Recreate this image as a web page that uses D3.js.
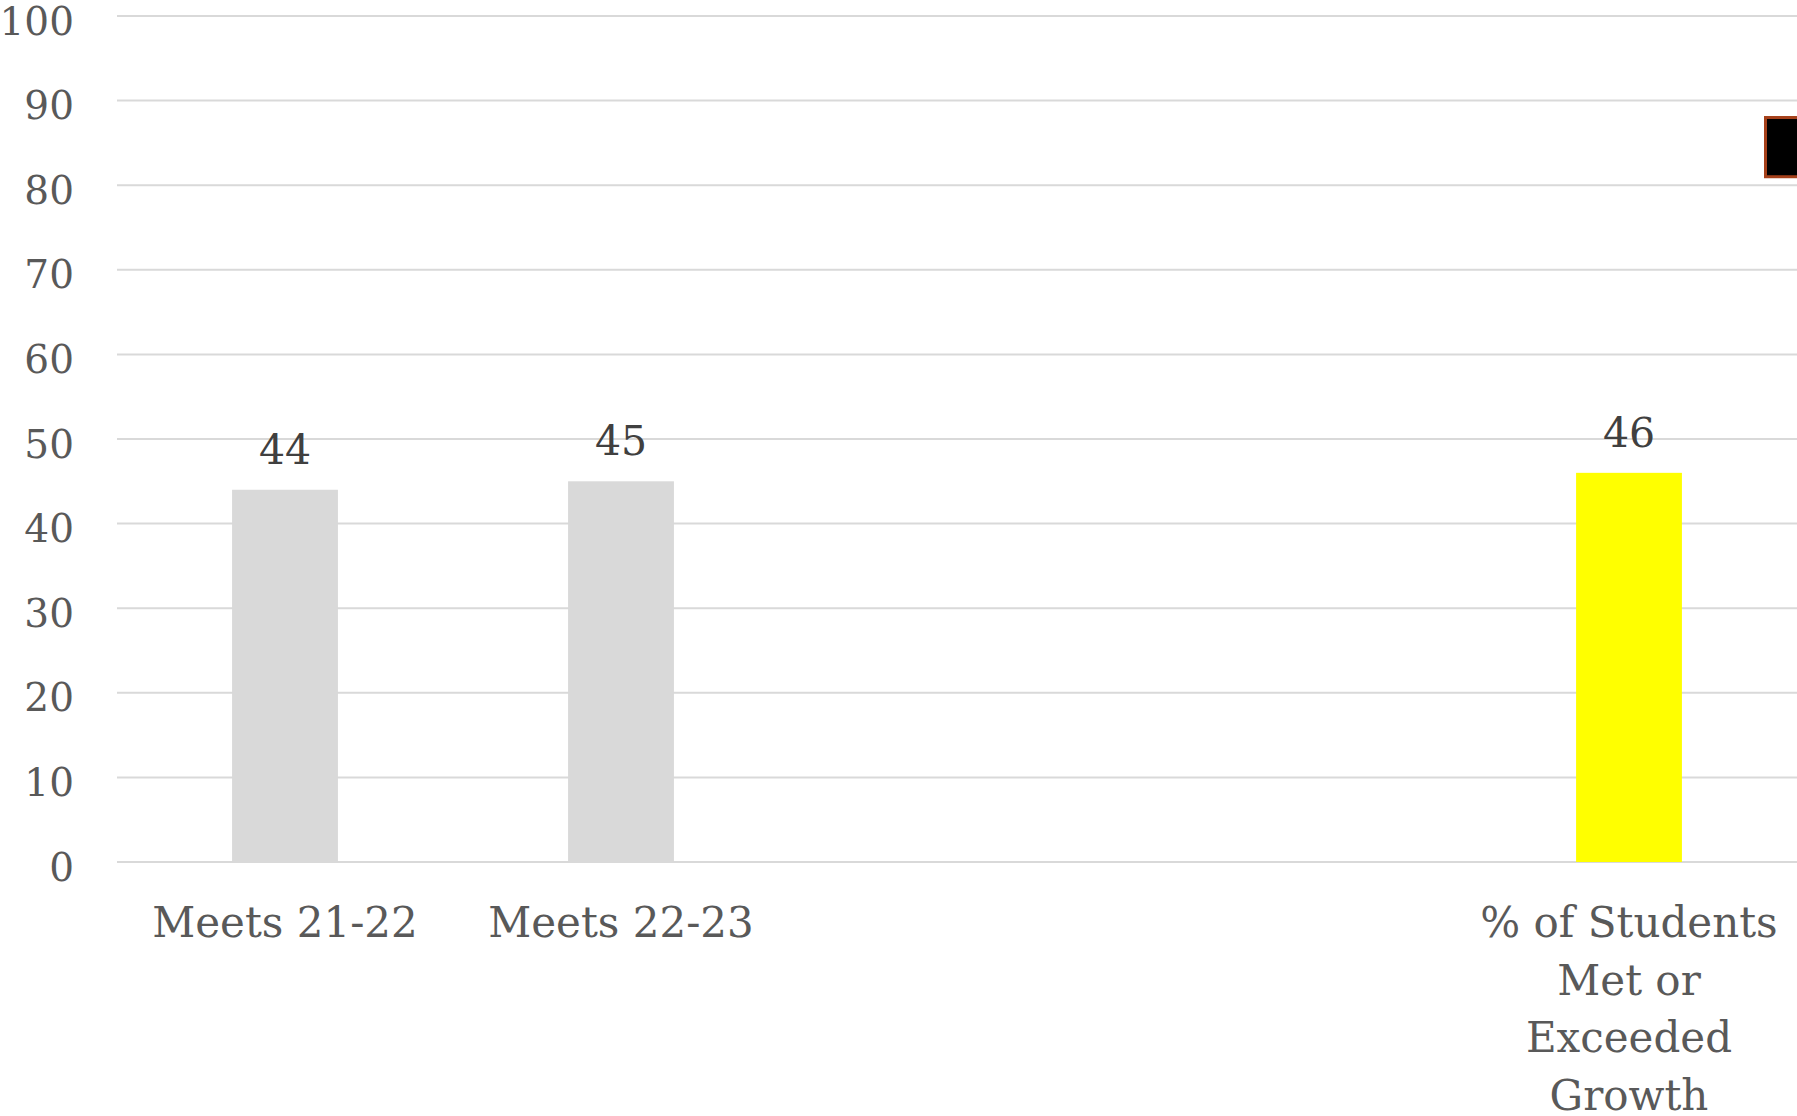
<!DOCTYPE html>
<html>
<head>
<meta charset="utf-8">
<script src="https://cdn.jsdelivr.net/npm/d3@7"></script>
<style>
  html, body { margin: 0; padding: 0; background: #ffffff; overflow: hidden; }
  svg { display: block; }
</style>
</head>
<body>
<svg id="chart" width="1797" height="1116"></svg>
<script>
// ---- data ----
const categories = ["Meets 21-22", "Meets 22-23", "", " ", "% of Students Met or Exceeded Growth"];
const values = [44, 45, null, null, 46];
const barColors = ["#d9d9d9", "#d9d9d9", "#d9d9d9", "#d9d9d9", "#ffff00"];
const yTicks = [0, 10, 20, 30, 40, 50, 60, 70, 80, 90, 100];
const legendItems = ["Series"];

// ---- layout ----
const W = 1797, H = 1116;
const plotLeft = 117, plotRight = 1797, plotTop = 16, plotBottom = 862;

const svg = d3.select("#chart");

const y = d3.scaleLinear().domain([0, 100]).range([plotBottom, plotTop]);
const x = d3.scaleBand().domain(categories).range([plotLeft, plotRight]).padding(0);
const barW = x.bandwidth() * 0.315;

// gridlines
svg.append("g")
  .selectAll("line")
  .data(yTicks)
  .join("line")
  .attr("x1", plotLeft)
  .attr("x2", plotRight)
  .attr("y1", d => y(d))
  .attr("y2", d => y(d))
  .attr("stroke", "#d9d9d9")
  .attr("stroke-width", 2);

// y axis labels
const yAxis = d3.axisLeft(y).tickValues(yTicks).tickSize(0).tickPadding(0);
const yg = svg.append("g").attr("transform", `translate(74,0)`).call(yAxis);
yg.select(".domain").remove();
yg.selectAll("text")
  .attr("font-family", "'DejaVu Serif', serif")
  .attr("font-size", 39)
  .attr("fill", "#595959")
  .attr("text-anchor", "end")
  .attr("dy", "0.36em")
  .attr("y", 4);

// bars
const data = categories.map((c, i) => ({ c, v: values[i], color: barColors[i] }))
  .filter(d => d.v !== null);

svg.append("g")
  .selectAll("rect")
  .data(data)
  .join("rect")
  .attr("x", d => x(d.c) + x.bandwidth() / 2 - barW / 2)
  .attr("width", barW)
  .attr("y", d => y(d.v))
  .attr("height", d => y(0) - y(d.v))
  .attr("fill", d => d.color);

// data labels
svg.append("g")
  .selectAll("text")
  .data(data)
  .join("text")
  .attr("x", d => x(d.c) + x.bandwidth() / 2)
  .attr("y", d => y(d.v) - 26)
  .attr("text-anchor", "middle")
  .attr("font-family", "'DejaVu Serif', serif")
  .attr("font-size", 41)
  .attr("fill", "#404040")
  .text(d => d.v);

// category labels (wrapped)
const catG = svg.append("g");
const maxW = x.bandwidth() * 0.93;
categories.forEach(c => {
  if (!c.trim()) return;
  const t = catG.append("text")
    .attr("x", x(c) + x.bandwidth() / 2)
    .attr("y", 937)
    .attr("text-anchor", "middle")
    .attr("font-family", "'DejaVu Serif', serif")
    .attr("font-size", 42)
    .attr("fill", "#595959");
  const words = c.split(/\s+/);
  let line = [];
  let tspan = t.append("tspan").attr("x", x(c) + x.bandwidth() / 2).attr("dy", 0);
  words.forEach(w => {
    line.push(w);
    tspan.text(line.join(" "));
    if (tspan.node().getComputedTextLength() > maxW && line.length > 1) {
      line.pop();
      tspan.text(line.join(" "));
      line = [w];
      tspan = t.append("tspan").attr("x", x(c) + x.bandwidth() / 2).attr("dy", 57.5).text(w);
    }
  });
});

// legend marker (clipped at right edge)
const legendY = d3.scaleBand().domain(legendItems).range([y(88), y(81)]);
svg.append("g")
  .selectAll("rect")
  .data(legendItems)
  .join("rect")
  .attr("x", 1765.5)
  .attr("y", d => legendY(d))
  .attr("width", legendY.bandwidth())
  .attr("height", legendY.bandwidth())
  .attr("fill", "#000000")
  .attr("stroke", "#a5401a")
  .attr("stroke-width", 3);
</script>
</body>
</html>
